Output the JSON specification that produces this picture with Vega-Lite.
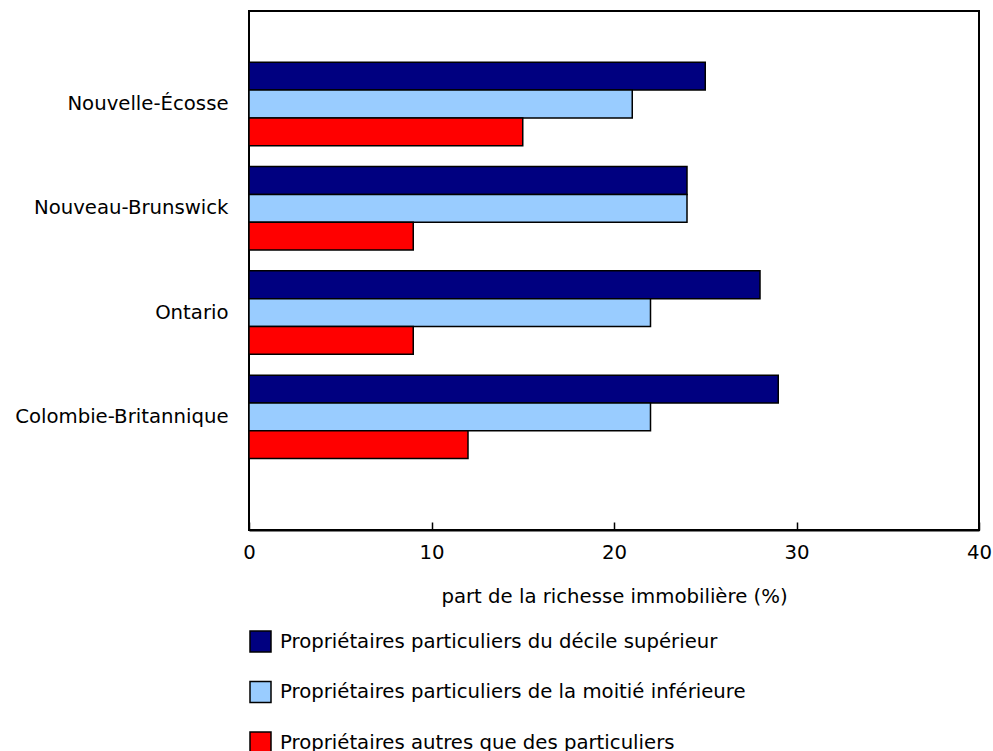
{
  "$schema": "https://vega.github.io/schema/vega-lite/v6.json",
  "autosize": {"type": "none"},
  "padding": {"left": 249, "top": 11, "right": 14, "bottom": 221},
  "width": 730,
  "height": 519,
  "background": "white",
  "config": {
    "font": "DejaVu Sans",
    "view": {"stroke": "black", "strokeWidth": 2},
    "axis": {"labelFont": "DejaVu Sans", "titleFont": "DejaVu Sans", "labelColor": "black", "titleColor": "black", "labelFontSize": 19.7, "titleFontSize": 19.7, "titleFontWeight": "normal", "domainColor": "black", "tickColor": "black", "grid": false, "labelLimit": 400},
    "legend": {"labelFont": "DejaVu Sans", "labelFontSize": 19.7, "labelColor": "black"}
  },
  "data": {
    "values": [
      {"province": "Nouvelle-Écosse", "serie": "Propriétaires particuliers du décile supérieur", "valeur": 25},
      {"province": "Nouvelle-Écosse", "serie": "Propriétaires particuliers de la moitié inférieure", "valeur": 21},
      {"province": "Nouvelle-Écosse", "serie": "Propriétaires autres que des particuliers", "valeur": 15},
      {"province": "Nouveau-Brunswick", "serie": "Propriétaires particuliers du décile supérieur", "valeur": 24},
      {"province": "Nouveau-Brunswick", "serie": "Propriétaires particuliers de la moitié inférieure", "valeur": 24},
      {"province": "Nouveau-Brunswick", "serie": "Propriétaires autres que des particuliers", "valeur": 9},
      {"province": "Ontario", "serie": "Propriétaires particuliers du décile supérieur", "valeur": 28},
      {"province": "Ontario", "serie": "Propriétaires particuliers de la moitié inférieure", "valeur": 22},
      {"province": "Ontario", "serie": "Propriétaires autres que des particuliers", "valeur": 9},
      {"province": "Colombie-Britannique", "serie": "Propriétaires particuliers du décile supérieur", "valeur": 29},
      {"province": "Colombie-Britannique", "serie": "Propriétaires particuliers de la moitié inférieure", "valeur": 22},
      {"province": "Colombie-Britannique", "serie": "Propriétaires autres que des particuliers", "valeur": 12}
    ]
  },
  "mark": {"type": "bar", "stroke": "black", "strokeWidth": 1.5},
  "encoding": {
    "y": {
      "field": "province", "type": "nominal",
      "sort": ["Nouvelle-Écosse", "Nouveau-Brunswick", "Ontario", "Colombie-Britannique"],
      "scale": {"paddingInner": 0.2, "paddingOuter": 0.588, "align": 0.418},
      "axis": {"title": null, "ticks": false, "domain": false, "labelPadding": 21}
    },
    "yOffset": {
      "field": "serie", "type": "nominal",
      "sort": ["Propriétaires particuliers du décile supérieur", "Propriétaires particuliers de la moitié inférieure", "Propriétaires autres que des particuliers"],
      "scale": {"paddingInner": 0, "paddingOuter": 0}
    },
    "x": {
      "field": "valeur", "type": "quantitative",
      "scale": {"domain": [0, 40], "nice": false},
      "axis": {"title": "part de la richesse immobilière (%)", "values": [0, 10, 20, 30, 40], "tickSize": -8, "tickWidth": 1.5, "labelPadding": 20, "labelFlush": false, "titlePadding": 25, "domainWidth": 2}
    },
    "color": {
      "field": "serie", "type": "nominal",
      "scale": {
        "domain": ["Propriétaires particuliers du décile supérieur", "Propriétaires particuliers de la moitié inférieure", "Propriétaires autres que des particuliers"],
        "range": ["#000080", "#99CCFF", "#FF0000"]
      },
      "legend": {
        "title": null, "orient": "none", "legendX": 0, "legendY": 619,
        "symbolType": "square", "symbolSize": 441, "symbolStrokeColor": "black", "symbolStrokeWidth": 1.5, "symbolOpacity": 1,
        "labelOffset": 8, "rowPadding": 23.5, "labelLimit": 700
      }
    }
  }
}
